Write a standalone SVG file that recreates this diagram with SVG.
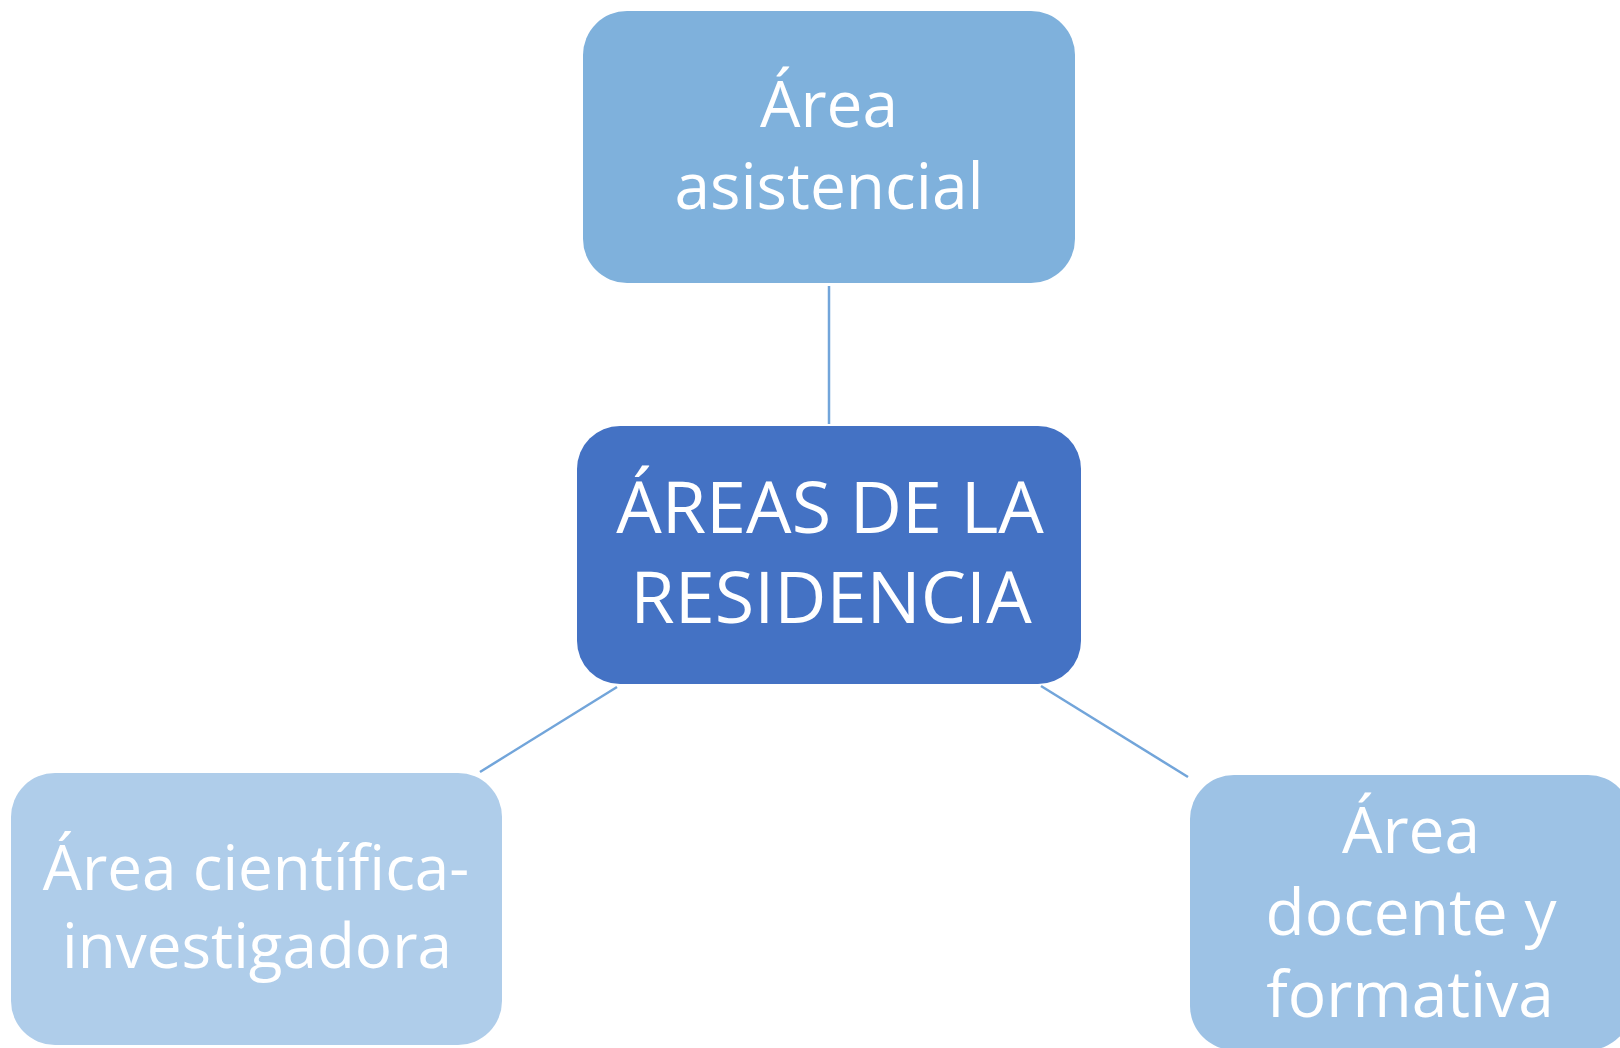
<svg xmlns="http://www.w3.org/2000/svg" width="1620" height="1048" viewBox="0 0 1620 1048">
<style>
.lbl{font-family:"Open Sans","Noto Sans","Liberation Sans",sans-serif;fill:#ffffff;text-anchor:middle}
.sm{font-size:64px}
.sm2{font-size:62px}
.lg{font-size:72px}
.con{stroke:#72A5DA;stroke-width:2.5;fill:none}
</style>
<rect width="1620" height="1048" fill="#ffffff"/>
<g id="connectors">
<line class="con" x1="829" y1="286" x2="829" y2="424"/>
<line class="con" x1="617" y1="687" x2="480" y2="772"/>
<line class="con" x1="1041" y1="686" x2="1188" y2="777"/>
</g>
<g id="node-asistencial">
<rect x="583" y="11" width="492" height="272" rx="44" fill="#7FB1DC"/>
<text class="lbl sm" x="829" y="127">Área</text>
<text class="lbl sm" x="829" y="209">asistencial</text>
</g>
<g id="node-center">
<rect x="577" y="426" width="504" height="258" rx="43" fill="#4472C4"/>
<text class="lbl lg" x="830" y="533">ÁREAS DE LA</text>
<text class="lbl lg" x="831" y="623">RESIDENCIA</text>
</g>
<g id="node-cientifica">
<rect x="11" y="773" width="491" height="272" rx="44" fill="#AFCDEA"/>
<text class="lbl sm2" x="256" y="890">Área científica-</text>
<text class="lbl sm2" x="257" y="968">investigadora</text>
</g>
<g id="node-docente">
<rect x="1190" y="775" width="442" height="275" rx="44" fill="#9DC2E5"/>
<text class="lbl sm" x="1411" y="853">Área</text>
<text class="lbl sm" x="1411" y="935">docente y</text>
<text class="lbl sm" x="1410" y="1017">formativa</text>
</g>
</svg>
